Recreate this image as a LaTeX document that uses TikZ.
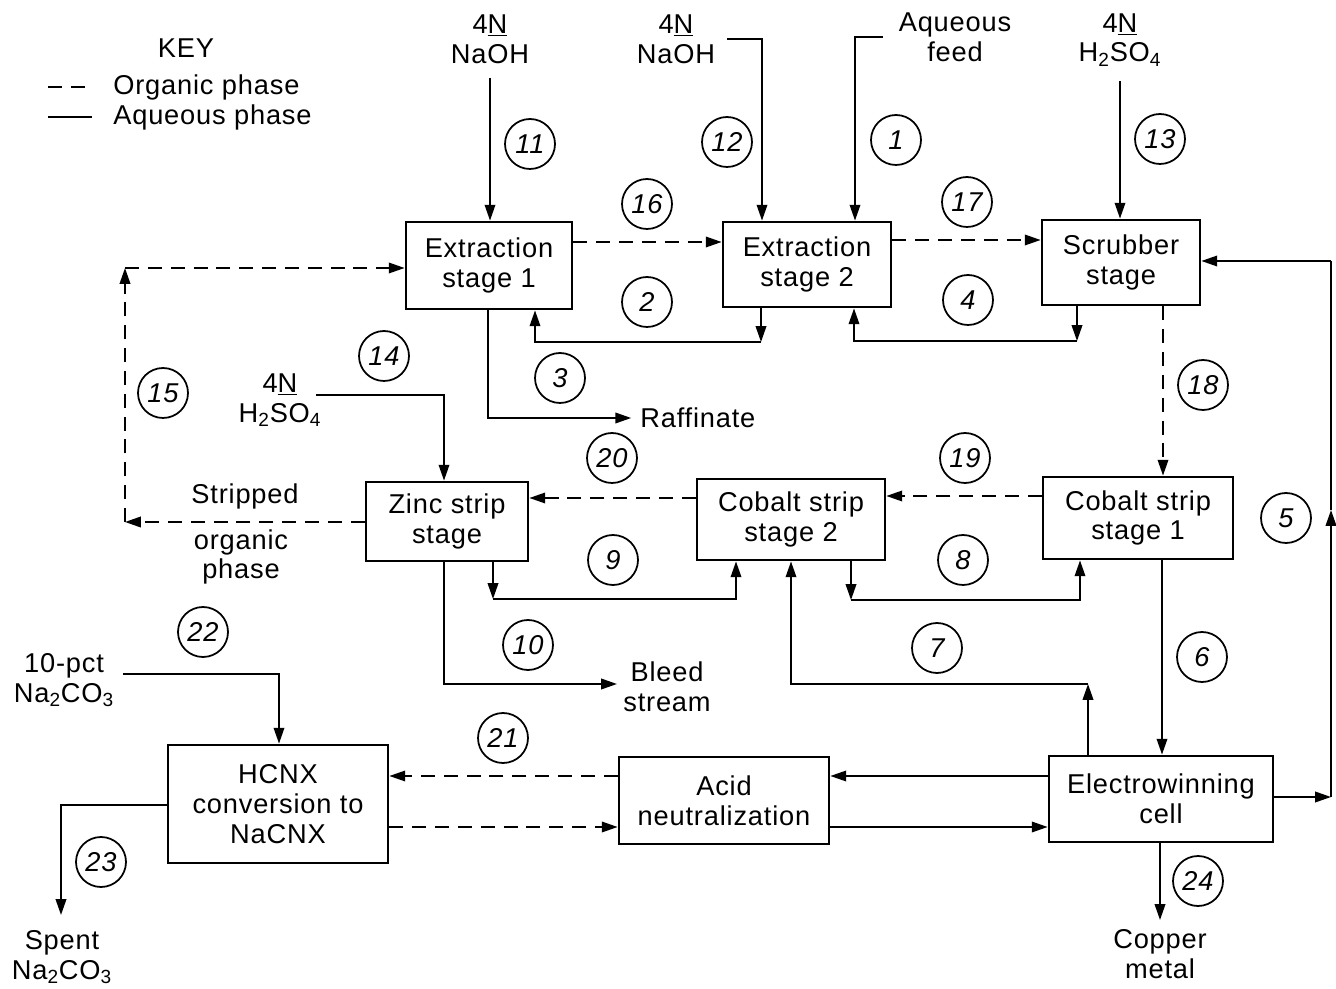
\documentclass[tikz,border=0pt]{standalone}
\usepackage{fontspec}
\setmainfont{Liberation Sans}[LetterSpace=3]
\usetikzlibrary{arrows.meta,calc,positioning}

\newcommand{\diagfont}{\fontsize{15.5}{17}\selectfont}

\tikzset{
  stage/.style={draw, line width=1.6pt, align=center, inner sep=0pt},
  num/.style={draw, circle, line width=1pt, minimum size=1cm, inner sep=0pt, font=\diagfont\itshape},
  aq/.style={line width=1pt},
  org/.style={line width=1pt, dash pattern=on 8pt off 5pt},
  lbl/.style={align=center, inner sep=0pt},
}

\begin{document}
\begin{tikzpicture}[x=0.02cm, y=-0.02cm, font=\diagfont,
    >={Triangle[length=9pt,width=6pt]}, line cap=butt, line join=miter]
  \useasboundingbox (0,0) rectangle (1336,989);

  % Key.
  \node (key) at (186,48) {KEY};
  \node[anchor=west, inner sep=0pt] (korg) at (113,87) {Organic phase};
  \node[anchor=west, inner sep=0pt] (kaq) at (113,117) {Aqueous phase};
  \draw[org] (48,87) -- (92,87);
  \draw[aq] (48,117) -- (92,117);

  % Process stages.
  \node[stage, minimum width=3.32cm, minimum height=1.74cm] (ext1) at (489,265.5) {Extraction\\stage 1};
  \node[stage, minimum width=3.36cm, minimum height=1.70cm] (ext2) at (807,264.5) {Extraction\\stage 2};
  \node[stage, minimum width=3.16cm, minimum height=1.70cm] (scrub) at (1121,262.5) {Scrubber\\stage};
  \node[stage, minimum width=3.24cm, minimum height=1.58cm] (zinc) at (447,521.5) {Zinc strip\\stage};
  \node[stage, minimum width=3.76cm, minimum height=1.62cm] (cos2) at (791,519.5) {Cobalt strip\\stage 2};
  \node[stage, minimum width=3.80cm, minimum height=1.64cm] (cos1) at (1138,518) {Cobalt strip\\stage 1};
  \node[stage, minimum width=4.40cm, minimum height=2.36cm] (hcnx) at (278,804) {HCNX\\conversion to\\NaCNX};
  \node[stage, minimum width=4.20cm, minimum height=1.74cm] (acid) at (724,800.5) {Acid\\neutralization};
  \node[stage, minimum width=4.48cm, minimum height=1.72cm] (ew) at (1161,799) {Electrowinning\\cell};

  % Feeds and products.
  \node[lbl] (naoh1) at (490,39) {4\underline{N}\\NaOH};
  \node[lbl] (naoh2) at (676,39) {4\underline{N}\\NaOH};
  \node[lbl] (feed) at (955,37) {Aqueous\\feed};
  \node[lbl] (acid1) at (1120,40) {4\underline{N}\\H\textsubscript{2}SO\textsubscript{4}};
  \node[lbl] (acid2) at (280,400) {4\underline{N}\\H\textsubscript{2}SO\textsubscript{4}};
  \node[lbl, anchor=west] (raff) at (640,418) {Raffinate};
  \node[lbl] (strip) at (245,496) {Stripped};
  \node[lbl] (orgph) at (241,557) {organic\\phase};
  \node[lbl] (bleed) at (667,687) {Bleed\\stream};
  \node[lbl] (soda) at (64,680) {10-pct\\Na\textsubscript{2}CO\textsubscript{3}};
  \node[lbl] (spent) at (62,957) {Spent\\Na\textsubscript{2}CO\textsubscript{3}};
  \node[lbl] (copper) at (1160,954) {Copper\\metal};

  % Bend points.
  \coordinate (f12) at (727,39);
  \coordinate (f1) at (883,37);
  \coordinate (f14) at (316,395);
  \coordinate (f22) at (123,674);
  \coordinate (c2) at (761,342);
  \coordinate (c4) at (1077,341);
  \coordinate (c5) at (1331,797);
  \coordinate (c5m) at (1331,510);
  \coordinate (c5b) at (1331,261);
  \coordinate (c7) at (1088,684);
  \coordinate (c8) at (851,600);
  \coordinate (c9) at (493,599);
  \coordinate (c10) at (617,684);
  \coordinate (c15a) at (125,522);
  \coordinate (c15b) at (125,268);
  \coordinate (c23) at (61,915);
  \coordinate (c24) at (1160,920);

  % Aqueous streams.
  \draw[aq,->,shorten <=8pt] (naoh1.south) -- (naoh1.south |- ext1.north);
  \draw[aq,->] (f12) -| (762,0 |- ext2.north);
  \draw[aq,->] (f1) -| (855,0 |- ext2.north);
  \draw[aq,->,shorten <=8pt] (acid1.south) -- (acid1.south |- scrub.north);
  \draw[aq,->] (761,0 |- ext2.south) -- (c2);
  \draw[aq,->] (c2) -| (535,0 |- ext1.south);
  \draw[aq,->] (488,0 |- ext1.south) |- ([xshift=-5pt]raff.west);
  \draw[aq,->] (1077,0 |- scrub.south) -- (c4);
  \draw[aq,->] (c4) -| (854,0 |- ext2.south);
  \draw[aq,->] (ew.east |- c5) -- (c5);
  \draw[aq,->] (c5) -- (c5m);
  \draw[aq] (c5m) -- (c5b);
  \draw[aq,->] (c5b) -- (scrub.east |- c5b);
  \draw[aq,->] (f14) -| (444,0 |- zinc.north);
  \draw[aq,->] (493,0 |- zinc.south) -- (c9);
  \draw[aq,->] (c9) -| (736,0 |- cos2.south);
  \draw[aq,->] (851,0 |- cos2.south) -- (c8);
  \draw[aq,->] (c8) -| (1080,0 |- cos1.south);
  \draw[aq,->] (444,0 |- zinc.south) |- (c10);
  \draw[aq,->] (1088,0 |- ew.north) -- (c7);
  \draw[aq,->] (c7) -| (791,0 |- cos2.south);
  \draw[aq,->] (1162,0 |- cos1.south) -- (1162,0 |- ew.north);
  \draw[aq,->] (ew.west |- 0,776) -- (acid.east |- 0,776);
  \draw[aq,->] (acid.east |- 0,827) -- (ew.west |- 0,827);
  \draw[aq,->] (f22) -| (279,0 |- hcnx.north);
  \draw[aq,->] (hcnx.west |- 0,805) -| (c23);
  \draw[aq,->] (1160,0 |- ew.south) -- (c24);

  % Organic streams.
  \draw[org,->] (ext1.east |- 0,242) -- (ext2.west |- 0,242);
  \draw[org,->] (ext2.east |- 0,240) -- (scrub.west |- 0,240);
  \draw[org,->] (1163,0 |- scrub.south) -- (1163,0 |- cos1.north);
  \draw[org,->] (cos1.west |- 0,496) -- (cos2.east |- 0,496);
  \draw[org,->] (cos2.west |- 0,498) -- (zinc.east |- 0,498);
  \draw[org,->] (zinc.west |- c15a) -- (c15a);
  \draw[org,->] (c15a) -- (c15b);
  \draw[org,->] (c15b) -- (ext1.west |- c15b);
  \draw[org,->] (acid.west |- 0,776) -- (hcnx.east |- 0,776);
  \draw[org,->] (hcnx.east |- 0,827) -- (acid.west |- 0,827);

  % Stream numbers.
  \foreach \n/\px/\py in {1/896/140, 2/647/302, 3/560/378, 4/968/300, 5/1286/518,
      6/1202/657, 7/937/648, 8/963/560, 9/613/560, 10/528/645, 11/530/144,
      12/727/142, 13/1160/139, 14/384/356, 15/163/393, 16/647/204, 17/967/202,
      18/1203/385, 19/965/458, 20/612/458, 21/503/738, 22/203/632, 23/101/862,
      24/1198/881}{
    \node[num] (n\n) at (\px,\py) {\n};
  }
\end{tikzpicture}
\end{document}
